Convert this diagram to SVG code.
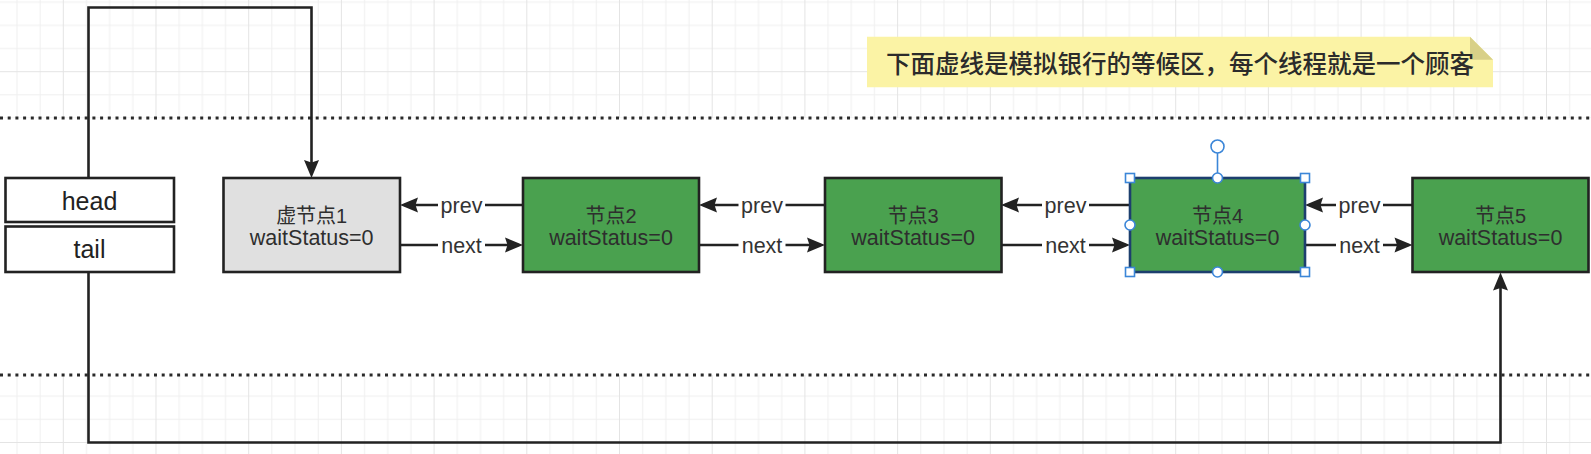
<svg xmlns="http://www.w3.org/2000/svg" width="1591" height="454" viewBox="0 0 1591 454">
<style>
.ln{fill:none;stroke:#222;stroke-width:2.6}
.arr{marker-end:url(#ah)}
.dot{fill:none;stroke:#2a2a2a;stroke-width:3;stroke-dasharray:3 4.7}
.box{stroke:#222;stroke-width:2.6}
.grn{fill:#4aa14f}
.gry{fill:#e0e0e0}
.wht{fill:#fff}
.t1{font-family:"Liberation Sans","Noto Sans CJK SC",sans-serif;font-size:20px;fill:#2e2e2e;text-anchor:middle}
.t2{font-family:"Liberation Sans","Noto Sans CJK SC",sans-serif;font-size:21.5px;fill:#2e2e2e;text-anchor:middle}
.ht{font-family:"Liberation Sans","Noto Sans CJK SC",sans-serif;font-size:25px;fill:#222;text-anchor:middle}
.lbl{font-family:"Liberation Sans",sans-serif;font-size:21.5px;fill:#333;text-anchor:middle}
.lbg{fill:#fff}
.note{font-family:"Noto Sans CJK SC",sans-serif;font-size:24.5px;font-weight:500;fill:#2b2b2b;text-anchor:middle}
.hs{fill:#fff;stroke:#3b86d8;stroke-width:1.6}
</style>
<defs>
<pattern id="grid" x="62.8" y="71.2" width="92.7" height="92.7" patternUnits="userSpaceOnUse">
<path d="M23.675,0V92.7M46.85,0V92.7M70.025,0V92.7M0,23.675H92.7M0,46.85H92.7M0,70.025H92.7" stroke="#f0f0f0" stroke-width="1" fill="none"/>
<path d="M0.5,0V92.7M0,0.5H92.7" stroke="#e4e4e4" stroke-width="1" fill="none"/>
</pattern>
<marker id="ah" markerUnits="userSpaceOnUse" markerWidth="22" markerHeight="16" refX="14" refY="7.5" orient="auto" overflow="visible">
<path d="M0,0L18,7.5L0,15L2.5,7.5Z" fill="#222"/>
</marker>
</defs>
<rect x="0" y="0" width="1591" height="454" fill="#fff"/>
<rect x="0" y="0" width="1591" height="454" fill="url(#grid)"/>
<rect x="0" y="118" width="1591" height="257" fill="#fff"/>
<g id="lane">
<line class="dot" x1="0" y1="118" x2="1591" y2="118"/>
<line class="dot" x1="0" y1="375" x2="1591" y2="375"/>
</g>
<g id="note">
<path d="M867,36.7H1470L1493,59.7V87.3H867Z" fill="#fbf3a5"/>
<path d="M1470,36.7V59.7H1493Z" fill="#d8d088"/>
<text class="note" x="1180" y="73">下面虚线是模拟银行的等候区，每个线程就是一个顾客</text>
</g>
<g id="connectors">
<path class="ln arr" d="M88.5,178V7.5H311.5V174"/>
<path class="ln arr" d="M88.5,272V442.5H1500.5V276.5"/>
<path class="ln arr" d="M523,205H404"/>
<path class="ln arr" d="M400,245H519"/>
<path class="ln arr" d="M825,205H703"/>
<path class="ln arr" d="M699,245H821"/>
<path class="ln arr" d="M1130,205H1005"/>
<path class="ln arr" d="M1001,245H1126"/>
<path class="ln arr" d="M1412.5,205H1309"/>
<path class="ln arr" d="M1305,245H1408.5"/>
<g id="labels">
<rect class="lbg" x="438" y="194" width="47" height="22"/><text class="lbl" x="461.5" y="212.5">prev</text>
<rect class="lbg" x="438" y="234" width="47" height="22"/><text class="lbl" x="461.5" y="252.5">next</text>
<rect class="lbg" x="738.5" y="194" width="47" height="22"/><text class="lbl" x="762" y="212.5">prev</text>
<rect class="lbg" x="738.5" y="234" width="47" height="22"/><text class="lbl" x="762" y="252.5">next</text>
<rect class="lbg" x="1042" y="194" width="47" height="22"/><text class="lbl" x="1065.5" y="212.5">prev</text>
<rect class="lbg" x="1042" y="234" width="47" height="22"/><text class="lbl" x="1065.5" y="252.5">next</text>
<rect class="lbg" x="1336" y="194" width="47" height="22"/><text class="lbl" x="1359.5" y="212.5">prev</text>
<rect class="lbg" x="1336" y="234" width="47" height="22"/><text class="lbl" x="1359.5" y="252.5">next</text>
</g>
</g>
<g id="head">
<rect class="box wht" x="5.5" y="178" width="168.5" height="44"/>
<text class="ht" x="89.5" y="210">head</text>
</g>
<g id="tail">
<rect class="box wht" x="5.5" y="226.5" width="168.5" height="45.5"/>
<text class="ht" x="89.5" y="258.3">tail</text>
</g>
<g id="node1">
<rect class="box gry" x="223.5" y="178" width="176.5" height="94"/>
<text class="t1" x="311.7" y="222.5">虚节点1</text>
<text class="t2" x="311.7" y="245">waitStatus=0</text>
</g>
<g id="node2">
<rect class="box grn" x="523" y="178" width="176" height="94"/>
<text class="t1" x="611" y="222.5">节点2</text>
<text class="t2" x="611" y="245">waitStatus=0</text>
</g>
<g id="node3">
<rect class="box grn" x="825" y="178" width="176.5" height="94"/>
<text class="t1" x="913.2" y="222.5">节点3</text>
<text class="t2" x="913.2" y="245">waitStatus=0</text>
</g>
<g id="node4">
<rect class="grn" x="1130" y="178" width="175" height="94" stroke="#1d3f6e" stroke-width="2.6"/>
<text class="t1" x="1217.5" y="222.5">节点4</text>
<text class="t2" x="1217.5" y="245">waitStatus=0</text>
<g id="selection">
<line x1="1217.5" y1="153" x2="1217.5" y2="173" stroke="#3b86d8" stroke-width="1.6"/>
<circle class="hs" cx="1217.5" cy="146.5" r="6.5"/>
<rect class="hs" x="1125.5" y="173.5" width="9" height="9"/>
<rect class="hs" x="1300.5" y="173.5" width="9" height="9"/>
<rect class="hs" x="1125.5" y="267.5" width="9" height="9"/>
<rect class="hs" x="1300.5" y="267.5" width="9" height="9"/>
<circle class="hs" cx="1217.5" cy="178" r="5"/>
<circle class="hs" cx="1217.5" cy="272" r="5"/>
<circle class="hs" cx="1130" cy="225" r="5"/>
<circle class="hs" cx="1305" cy="225" r="5"/>
</g>
</g>
<g id="node5">
<rect class="box grn" x="1412.5" y="178" width="176" height="94"/>
<text class="t1" x="1500.5" y="222.5">节点5</text>
<text class="t2" x="1500.5" y="245">waitStatus=0</text>
</g>
</svg>
